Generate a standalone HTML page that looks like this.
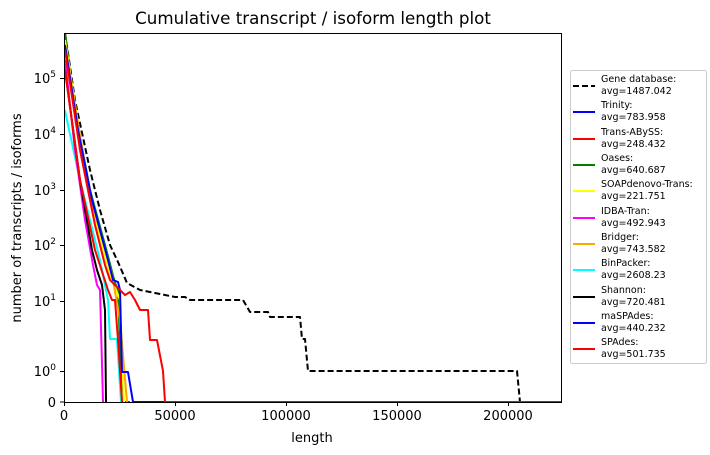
<!DOCTYPE html>
<html><head><meta charset="utf-8"><style>body{margin:0;background:#fff}svg{display:block}text{font-family:"DejaVu Sans","Liberation Sans",sans-serif}</style></head><body>
<svg width="710" height="455" viewBox="0 0 710 455">
<text x="313" y="24" font-size="16.7" text-anchor="middle">Cumulative transcript / isoform length plot</text>
<g fill="none" stroke-width="2" stroke-linejoin="round">
<polyline stroke="#000" stroke-dasharray="6,3" points="65,33 75,100 90,170 100,210 110,245 118,262 127,283 140,290 160,294 175,297 185,297 190,300 243,300 250,312 268,312 270,317 300,317 302,339 305,339 308,371 517,371 520,402 561,402"/>
<polyline stroke="#008000" points="65,33 75,110 90,190 105,245 115,283 118,290 122,402 130,402"/>
<polyline stroke="#ffff00" points="65,40 90,200 110,275 120,300 124,402"/>
<polyline stroke="#ffa500" points="65,45 90,195 112,275 120,320 127,402"/>
<polyline stroke="#00ffff" points="65,110 68,125 80,180 100,260 104,280 108,300 110,339 117,339 121,402"/>
<polyline stroke="#ff00ff" points="65,60 75,150 85,220 93,265 97,285 100,290 103,402"/>
<polyline stroke="#000" points="65,70 80,180 92,250 97,270 102,285 105,310 106,402"/>
<polyline stroke="#ff0000" points="65,70 80,180 95,250 108,290 112,300 115,300 118,340 122,402"/>
<polyline stroke="#0000ff" points="65,45 78,130 92,200 108,260 113,280 118,282 120,290 122,372 128,372 133,402 561,402"/>
<polyline stroke="#ff0000" points="65,50 80,150 95,225 105,265 110,280 120,290 125,295 130,292 135,300 140,310 148,310 150,340 157,340 163,371 165,402 561,402"/>
</g>
<rect x="64.5" y="33.5" width="497" height="369" fill="none" stroke="#000" stroke-width="1"/>
<g stroke="#000" stroke-width="1">
<line x1="64.5" y1="402" x2="64.5" y2="406"/><line x1="175.5" y1="402" x2="175.5" y2="406"/><line x1="286.5" y1="402" x2="286.5" y2="406"/><line x1="397.5" y1="402" x2="397.5" y2="406"/><line x1="508.5" y1="402" x2="508.5" y2="406"/>
<line x1="60" y1="78.5" x2="64" y2="78.5"/><line x1="60" y1="134.5" x2="64" y2="134.5"/><line x1="60" y1="190.5" x2="64" y2="190.5"/><line x1="60" y1="245.5" x2="64" y2="245.5"/><line x1="60" y1="301.5" x2="64" y2="301.5"/><line x1="60" y1="371.5" x2="64" y2="371.5"/><line x1="60" y1="402" x2="64" y2="402"/>
</g>
<g font-size="13" text-anchor="middle">
<text x="64" y="420">0</text><text x="175" y="420">50000</text><text x="286" y="420">100000</text><text x="397" y="420">150000</text><text x="508" y="420">200000</text>
<text x="312" y="442">length</text>
</g>
<g font-size="13" text-anchor="end">
<text x="56" y="83">10<tspan font-size="9" dy="-6">5</tspan></text>
<text x="56" y="139">10<tspan font-size="9" dy="-6">4</tspan></text>
<text x="56" y="195">10<tspan font-size="9" dy="-6">3</tspan></text>
<text x="56" y="250">10<tspan font-size="9" dy="-6">2</tspan></text>
<text x="56" y="306">10<tspan font-size="9" dy="-6">1</tspan></text>
<text x="56" y="376">10<tspan font-size="9" dy="-6">0</tspan></text>
<text x="56" y="407">0</text>
</g>
<text transform="translate(21,218) rotate(-90)" font-size="13" text-anchor="middle">number of transcripts / isoforms</text>
<rect x="570.5" y="70.5" width="136" height="293" rx="2" fill="#fff" stroke="#ccc"/>
<g font-size="9.5">
<g stroke-width="2">
<line x1="573" y1="86" x2="595" y2="86" stroke="#000" stroke-dasharray="6,3"/>
<line x1="573" y1="112" x2="595" y2="112" stroke="#0000ff"/>
<line x1="573" y1="139" x2="595" y2="139" stroke="#ff0000"/>
<line x1="573" y1="165" x2="595" y2="165" stroke="#008000"/>
<line x1="573" y1="191" x2="595" y2="191" stroke="#ffff00"/>
<line x1="573" y1="218" x2="595" y2="218" stroke="#ff00ff"/>
<line x1="573" y1="244" x2="595" y2="244" stroke="#ffa500"/>
<line x1="573" y1="270" x2="595" y2="270" stroke="#00ffff"/>
<line x1="573" y1="297" x2="595" y2="297" stroke="#000"/>
<line x1="573" y1="323" x2="595" y2="323" stroke="#0000ff"/>
<line x1="573" y1="349" x2="595" y2="349" stroke="#ff0000"/>
</g>
<text x="601" y="82">Gene database:</text><text x="601" y="94">avg=1487.042</text>
<text x="601" y="108">Trinity:</text><text x="601" y="120">avg=783.958</text>
<text x="601" y="135">Trans-ABySS:</text><text x="601" y="147">avg=248.432</text>
<text x="601" y="161">Oases:</text><text x="601" y="173">avg=640.687</text>
<text x="601" y="187">SOAPdenovo-Trans:</text><text x="601" y="199">avg=221.751</text>
<text x="601" y="214">IDBA-Tran:</text><text x="601" y="226">avg=492.943</text>
<text x="601" y="240">Bridger:</text><text x="601" y="252">avg=743.582</text>
<text x="601" y="266">BinPacker:</text><text x="601" y="278">avg=2608.23</text>
<text x="601" y="293">Shannon:</text><text x="601" y="305">avg=720.481</text>
<text x="601" y="319">maSPAdes:</text><text x="601" y="331">avg=440.232</text>
<text x="601" y="345">SPAdes:</text><text x="601" y="357">avg=501.735</text>
</g>
</svg>
</body></html>
